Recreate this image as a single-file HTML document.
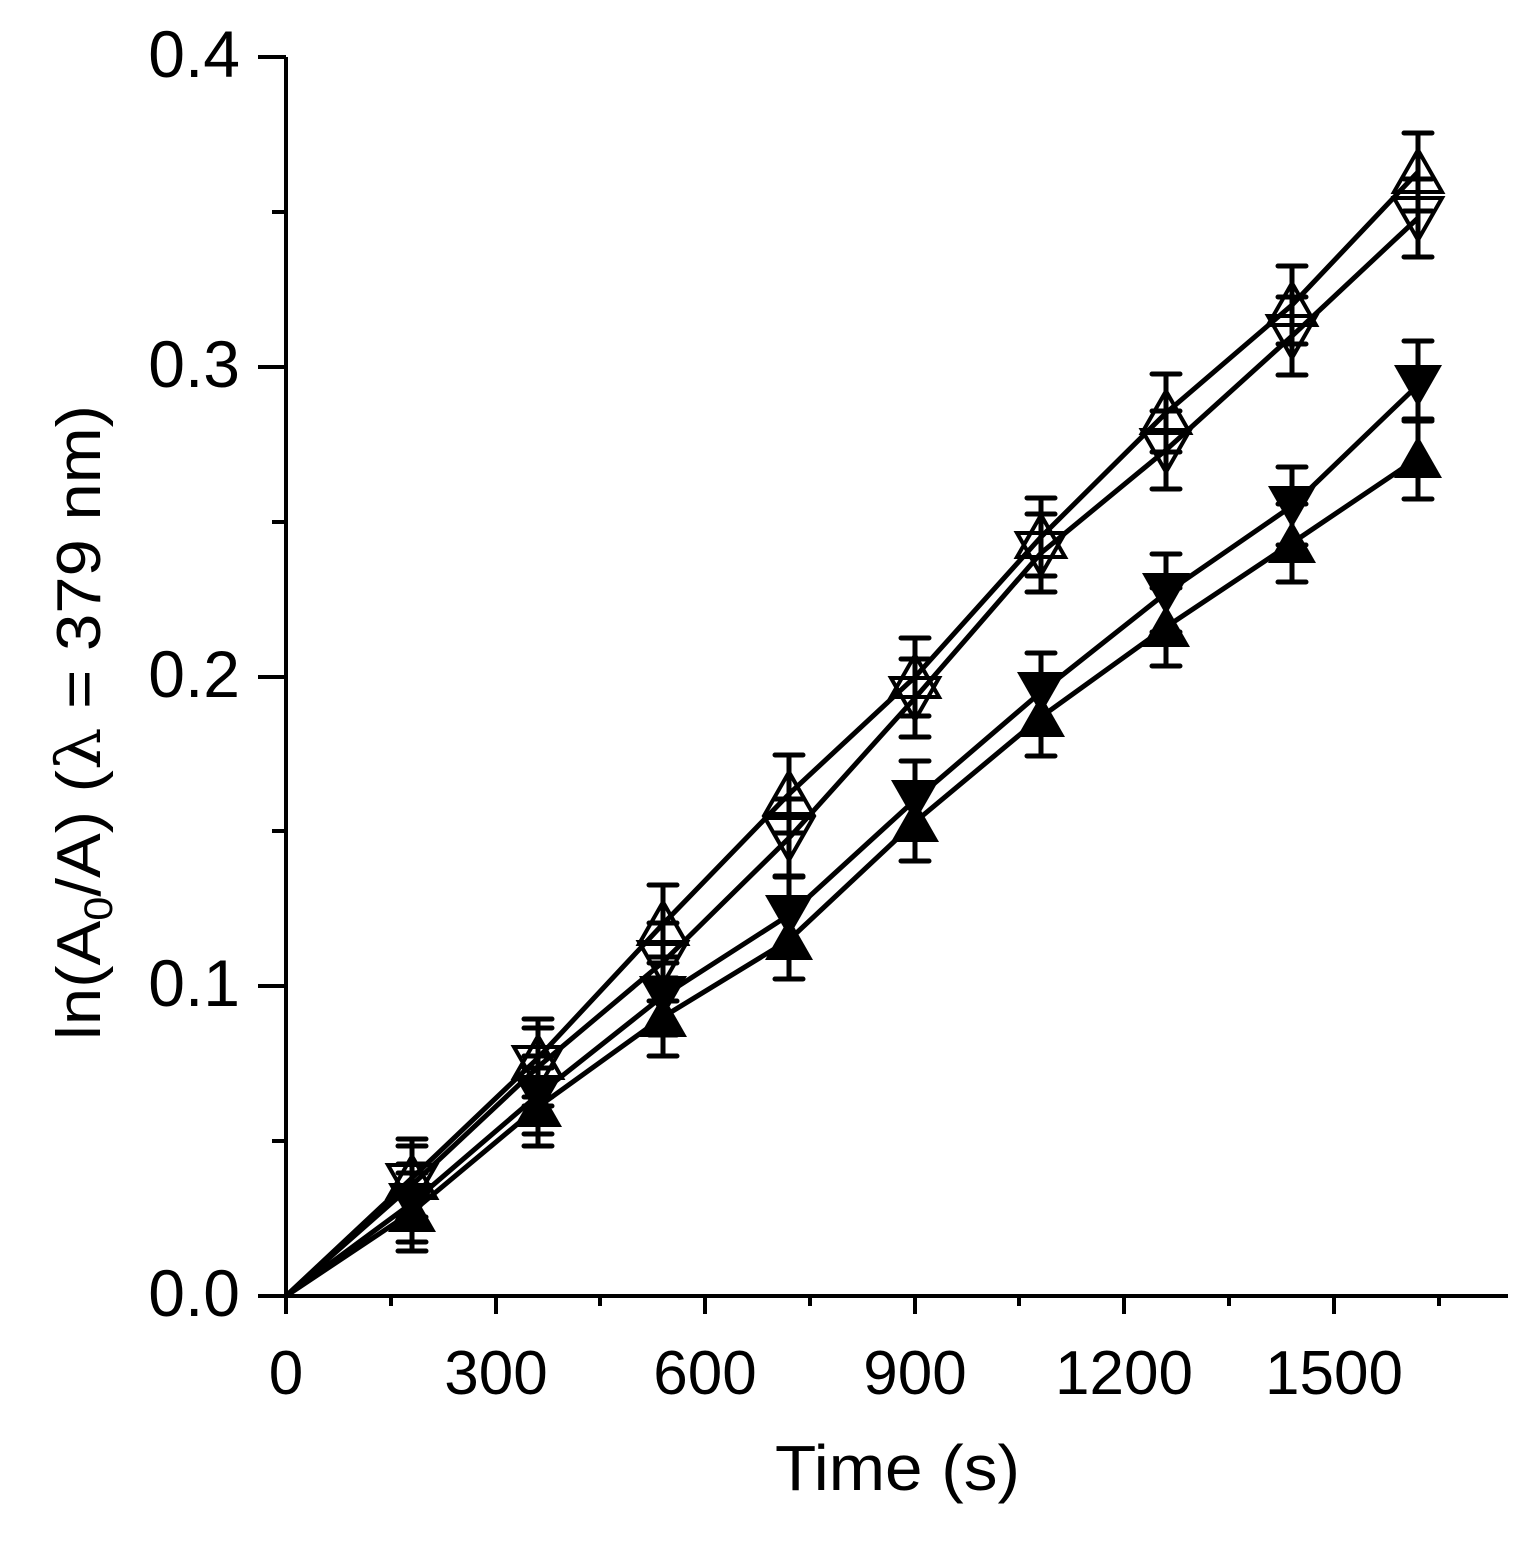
<!DOCTYPE html>
<html><head><meta charset="utf-8"><style>body{margin:0;background:#fff}svg{display:block}</style></head><body>
<svg width="1536" height="1550" xmlns="http://www.w3.org/2000/svg" font-family="Liberation Sans, Arial, sans-serif">
<defs>
<path id="tu" d="M0,-22 L24,20 L-24,20 Z"/>
<path id="td" d="M0,22 L24,-20 L-24,-20 Z"/>
<path id="eb" d="M-14,-39 H14 M0,-39 V39 M-14,39 H14"/>
</defs>
<g stroke="#000" stroke-width="4" fill="none">
<path d="M286,57 V1296 H1508"/>
<path d="M286,1296 h-28 M286,986 h-28 M286,677 h-28 M286,367 h-28 M286,57 h-28 M286,1141 h-14 M286,831 h-14 M286,522 h-14 M286,212 h-14"/>
<path d="M286,1296 v18 M496,1296 v18 M705,1296 v18 M915,1296 v18 M1124,1296 v18 M1334,1296 v18 M391,1296 v10 M600,1296 v10 M810,1296 v10 M1019,1296 v10 M1229,1296 v10 M1439,1296 v10"/>
</g>
<g font-size="66" text-anchor="end">
<text x="240" y="1316">0.0</text><text x="240" y="1006">0.1</text><text x="240" y="697">0.2</text><text x="240" y="387">0.3</text><text x="240" y="77">0.4</text>
</g>
<g font-size="62" text-anchor="middle">
<text x="286" y="1394">0</text><text x="496" y="1394">300</text><text x="705" y="1394">600</text><text x="915" y="1394">900</text><text x="1124" y="1394">1200</text><text x="1334" y="1394">1500</text>
</g>
<text x="775" y="1490" font-size="64" textLength="245" lengthAdjust="spacingAndGlyphs">Time (s)</text>
<text transform="translate(100,1040) rotate(-90)" font-size="62" textLength="635" lengthAdjust="spacingAndGlyphs">ln(A<tspan font-size="40" dy="12">0</tspan><tspan dy="-12">/A) (</tspan><tspan font-family="DejaVu Serif, serif">λ</tspan> = 379 nm)</text>
<g stroke="#000" stroke-width="5" fill="none">
<polyline points="286,1296 412,1178 538,1058 663,924 789,794 915,677 1041,537 1166,413 1292,305 1418,172"/>
<polyline points="286,1296 412,1185 538,1067 663,962 789,838 915,698 1041,553 1166,450 1292,336 1418,218"/>
<polyline points="286,1296 412,1203 538,1095 663,996 789,915 915,800 1041,692 1166,593 1292,506 1418,385"/>
<polyline points="286,1296 412,1212 538,1107 663,1017 789,940 915,822 1041,717 1166,627 1292,543 1418,458"/>
</g>
<g stroke="#000" stroke-width="5" stroke-linecap="round" fill="none">
<use href="#eb" x="412" y="1178"/><use href="#eb" x="538" y="1058"/><use href="#eb" x="663" y="924"/><use href="#eb" x="789" y="794"/><use href="#eb" x="915" y="677"/><use href="#eb" x="1041" y="537"/><use href="#eb" x="1166" y="413"/><use href="#eb" x="1292" y="305"/><use href="#eb" x="1418" y="172"/>
<use href="#eb" x="412" y="1185"/><use href="#eb" x="538" y="1067"/><use href="#eb" x="663" y="962"/><use href="#eb" x="789" y="838"/><use href="#eb" x="915" y="698"/><use href="#eb" x="1041" y="553"/><use href="#eb" x="1166" y="450"/><use href="#eb" x="1292" y="336"/><use href="#eb" x="1418" y="218"/>
<use href="#eb" x="412" y="1203"/><use href="#eb" x="538" y="1095"/><use href="#eb" x="663" y="996"/><use href="#eb" x="789" y="915"/><use href="#eb" x="915" y="800"/><use href="#eb" x="1041" y="692"/><use href="#eb" x="1166" y="593"/><use href="#eb" x="1292" y="506"/><use href="#eb" x="1418" y="380"/>
<use href="#eb" x="412" y="1212"/><use href="#eb" x="538" y="1107"/><use href="#eb" x="663" y="1017"/><use href="#eb" x="789" y="940"/><use href="#eb" x="915" y="822"/><use href="#eb" x="1041" y="717"/><use href="#eb" x="1166" y="627"/><use href="#eb" x="1292" y="543"/><use href="#eb" x="1418" y="460"/>
</g>
<g stroke="#000" stroke-width="4" fill="none">
<use href="#tu" x="412" y="1178"/><use href="#tu" x="538" y="1058"/><use href="#tu" x="663" y="924"/><use href="#tu" x="789" y="794"/><use href="#tu" x="915" y="677"/><use href="#tu" x="1041" y="537"/><use href="#tu" x="1166" y="413"/><use href="#tu" x="1292" y="305"/><use href="#tu" x="1418" y="172"/>
<use href="#td" x="412" y="1185"/><use href="#td" x="538" y="1067"/><use href="#td" x="663" y="962"/><use href="#td" x="789" y="838"/><use href="#td" x="915" y="698"/><use href="#td" x="1041" y="553"/><use href="#td" x="1166" y="450"/><use href="#td" x="1292" y="336"/><use href="#td" x="1418" y="218"/>
</g>
<g fill="#000">
<use href="#td" x="412" y="1203"/><use href="#td" x="538" y="1095"/><use href="#td" x="663" y="996"/><use href="#td" x="789" y="915"/><use href="#td" x="915" y="800"/><use href="#td" x="1041" y="692"/><use href="#td" x="1166" y="593"/><use href="#td" x="1292" y="506"/><use href="#td" x="1418" y="385"/>
<use href="#tu" x="412" y="1212"/><use href="#tu" x="538" y="1107"/><use href="#tu" x="663" y="1017"/><use href="#tu" x="789" y="940"/><use href="#tu" x="915" y="822"/><use href="#tu" x="1041" y="717"/><use href="#tu" x="1166" y="627"/><use href="#tu" x="1292" y="543"/><use href="#tu" x="1418" y="458"/>
</g>
</svg>
</body></html>
